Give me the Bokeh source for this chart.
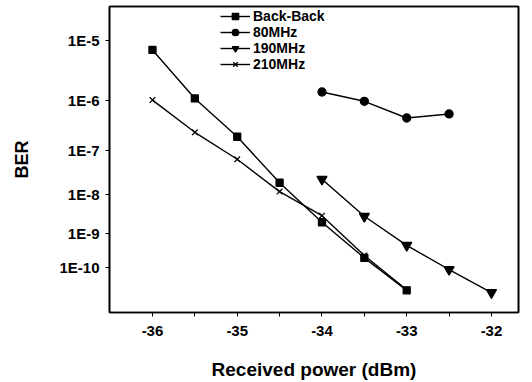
import numpy as np
from bokeh.plotting import figure
from bokeh.models import Range1d, FixedTicker, Legend, LegendItem, LinearAxis
from bokeh.embed import file_html
from bokeh.resources import INLINE

# ---- data ----
power_bb = [-36, -35.5, -35, -34.5, -34, -33.5, -33]
ber_bb = [7.1e-6, 1.07e-6, 1.95e-7, 1.9e-8, 1.95e-9, 1.95e-10, 1.9e-11]

power_80 = [-34, -33.5, -33, -32.5]
ber_80 = [1.4e-6, 9.5e-7, 4.6e-7, 5.5e-7]

power_190 = [-34, -33.5, -33, -32.5, -32]
ber_190 = [2.3e-8, 2.8e-9, 4.5e-10, 8.7e-11, 1.6e-11]

power_210 = [-36, -35.5, -35, -34.5, -34, -33.5, -33]
ber_210 = [1.0e-6, 2.4e-7, 6.5e-8, 1.17e-8, 2.9e-9, 2.3e-10, 2.0e-11]

series_names = ["Back-Back", "80MHz", "190MHz", "210MHz"]

y_tick_values = [1e-5, 1e-6, 1e-7, 1e-8, 1e-9, 1e-10]
y_tick_labels = ["1E-5", "1E-6", "1E-7", "1E-8", "1E-9", "1E-10"]
x_ticks = [-36, -35, -34, -33, -32]
x_minor_ticks = [-35.5, -34.5, -33.5, -32.5]


def tr(b):
    # BER paper scale: -log10(-log10(BER))
    return -np.log10(-np.log10(np.asarray(b, dtype=float)))


FONT = "Liberation Sans"

p = figure(width=532, height=382, output_backend="svg", toolbar_location=None,
           x_range=Range1d(-36.507, -31.681),
           y_range=Range1d(float(tr(10 ** -11.47)), float(tr(10 ** -4.51))),
           min_border_left=109, min_border_right=14, min_border_top=6,
           min_border_bottom=69)

p.background_fill_color = "white"
p.border_fill_color = "white"
p.outline_line_color = "black"
p.outline_line_width = 1.6
p.xgrid.visible = False
p.ygrid.visible = False

# x axis
xa = p.xaxis[0]
xa.ticker = FixedTicker(ticks=x_ticks, minor_ticks=x_minor_ticks)
xa.major_label_overrides = {t: str(t) for t in x_ticks}
xa.axis_line_width = 1.6
xa.axis_line_color = "black"
xa.major_tick_line_color = "black"
xa.minor_tick_line_color = "black"
xa.major_tick_in = 0
xa.major_tick_out = 4
xa.minor_tick_in = 0
xa.minor_tick_out = 4
xa.major_label_text_font = FONT
xa.major_label_text_font_style = "bold"
xa.major_label_text_font_size = "15px"
xa.major_label_text_color = "black"
xa.major_label_standoff = 9
xa.axis_label = "Received power (dBm)"
xa.axis_label_text_font = FONT
xa.axis_label_text_font_style = "bold"
xa.axis_label_text_font_size = "19px"
xa.axis_label_text_color = "black"
xa.axis_label_standoff = 20

# y axis
ya = p.yaxis[0]
ytv = [float(v) for v in tr(y_tick_values)]
ya.ticker = FixedTicker(ticks=ytv, minor_ticks=[])
ya.major_label_overrides = {v: l for v, l in zip(ytv, y_tick_labels)}
ya.axis_line_width = 1.6
ya.axis_line_color = "black"
ya.major_tick_line_color = "black"
ya.major_tick_in = 0
ya.major_tick_out = 4
ya.minor_tick_in = 0
ya.minor_tick_out = 0
ya.major_label_text_font = FONT
ya.major_label_text_font_style = "bold"
ya.major_label_text_font_size = "15px"
ya.major_label_text_color = "black"
ya.major_label_standoff = 6
ya.axis_label = "BER"
ya.axis_label_text_font = FONT
ya.axis_label_text_font_style = "bold"
ya.axis_label_text_font_size = "18px"
ya.axis_label_text_color = "black"
ya.axis_label_standoff = 24

# frame box on right and top
for side in ("right", "above"):
    ax = LinearAxis(axis_line_width=1.6, axis_line_color="black",
                    major_tick_line_color=None,
                    minor_tick_line_color=None, major_label_text_font_size="0px",
                    ticker=FixedTicker(ticks=[]))
    p.add_layout(ax, side)

items = []
specs = [
    (power_bb, ber_bb, "square", 7),
    (power_80, ber_80, "circle", 8),
    (power_190, ber_190, "inverted_triangle", 10),
    (power_210, ber_210, "x", 8),
]
for (xs, bs, marker, size), name in zip(specs, series_names):
    ys = tr(bs)
    ln = p.line(xs, ys, line_color="black", line_width=1.4)
    sc = p.scatter(xs, ys, marker=marker, size=size, fill_color="black",
                   line_color="black", line_width=1.3)
    items.append(LegendItem(label=name, renderers=[ln, sc]))

legend = Legend(items=items, location=(111, 240), glyph_width=30,
                glyph_height=16, label_height=16, spacing=0, padding=0,
                margin=0, border_line_color=None, background_fill_alpha=0,
                label_text_font=FONT, label_text_font_style="bold",
                label_text_font_size="14px", label_text_color="black",
                label_standoff=3)
p.add_layout(legend)

open("out.html", "w").write(file_html(p, INLINE))
